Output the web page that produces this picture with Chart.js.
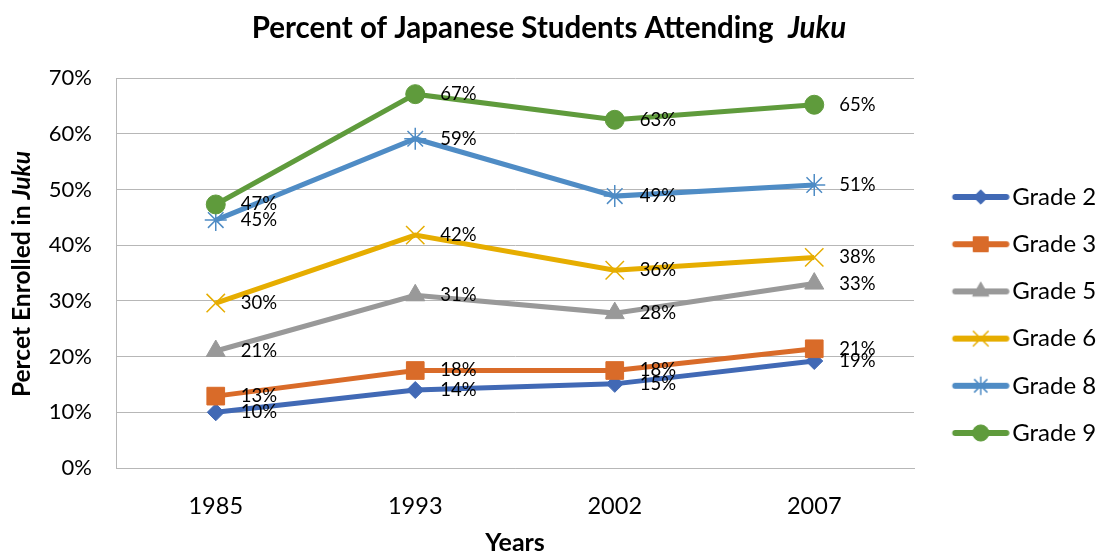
<!DOCTYPE html>
<html>
<head>
<meta charset="utf-8">
<script src="https://cdn.jsdelivr.net/npm/chart.js@4/dist/chart.umd.min.js"></script>
<style>
  html, body { margin: 0; padding: 0; background: #fff; }
  #wrap { width: 1101px; height: 552px; }
</style>
</head>
<body>
<div id="wrap"><canvas id="juku-chart"></canvas></div>
<script>
const years = ["1985", "1993", "2002", "2007"];
const grade2 = [10, 14, 15.1, 19.2];
const grade3 = [12.9, 17.5, 17.5, 21.4];
const grade5 = [21, 31, 27.8, 33.1];
const grade6 = [29.6, 41.8, 35.5, 37.8];
const grade8 = [44.5, 59.1, 48.8, 50.8];
const grade9 = [47.3, 67.1, 62.5, 65.2];
const yTicks = [0, 10, 20, 30, 40, 50, 60, 70];

const FONT = "Lato";
const GRID = "#b7b7b7";
const LEGEND_SIZE = 24;
const LEGEND_PAD = 23.2;
const LEGEND_BOX = 63;

// marker + colour per series
const series = [
    { label: "Grade 2", data: grade2, color: "#4169b5", style: "rectRot", radius: 8.5, bw: 1 },
    { label: "Grade 3", data: grade3, color: "#d96b29", style: "rect", radius: 12.5, bw: 1 },
    { label: "Grade 5", data: grade5, color: "#999999", style: "triangle", radius: 11, bw: 1 },
    { label: "Grade 6", data: grade6, color: "#e6ad00", style: "crossRot", radius: 13, bw: 1.5 },
    { label: "Grade 8", data: grade8, color: "#4f8cc5", style: "star", radius: 11, bw: 1.5 },
    { label: "Grade 9", data: grade9, color: "#5f9b3c", style: "circle", radius: 9.5, bw: 1 },
];

// right padding so the plot area ends at x = 915 (9px fudge found by eye)
const measure = document.createElement("canvas").getContext("2d");
measure.font = LEGEND_SIZE + "px " + FONT;
const maxText = Math.max(...series.map(s => measure.measureText(s.label).width));
const rightPad = 1101 - 915 - (LEGEND_PAD + LEGEND_BOX + LEGEND_SIZE / 2 + maxText) - 9;

function legendIcon(s) {
    const c = document.createElement("canvas");
    c.width = 82;
    c.height = 34;
    const ctx = c.getContext("2d");
    ctx.strokeStyle = s.color;
    ctx.lineCap = "round";
    ctx.lineWidth = 6;
    ctx.beginPath();
    ctx.moveTo(27.5, 17);
    ctx.lineTo(78.5, 17);
    ctx.stroke();
    ctx.fillStyle = s.color;
    ctx.lineWidth = s.bw;
    ctx.lineCap = "butt";
    Chart.helpers.drawPoint(ctx, {
        pointStyle: s.style,
        radius: s.radius * 0.85,
        rotation: 0,
        borderWidth: s.bw,
    }, 53, 17);
    return c;
}

const datalabels = {
    id: "datalabels",
    afterDatasetsDraw(chart) {
        const ctx = chart.ctx;
        ctx.save();
        ctx.font = "18.5px " + FONT;
        ctx.fillStyle = "#000";
        ctx.textAlign = "left";
        ctx.textBaseline = "middle";
        chart.data.datasets.forEach((ds, i) => {
            chart.getDatasetMeta(i).data.forEach((pt, j) => {
                ctx.fillText(Math.round(ds.data[j]) + "%", pt.x + 25, pt.y);
            });
        });
        ctx.restore();
    },
};

// title and y axis title have an italic word, so draw them by hand
function mixedText(ctx, parts, cx, cy) {
    let total = 0;
    parts.forEach(p => { ctx.font = p.font; p.w = ctx.measureText(p.text).width; total += p.w; });
    let x = cx - total / 2;
    parts.forEach(p => {
        ctx.font = p.font;
        ctx.fillText(p.text, x, cy);
        x += p.w;
    });
}

const titles = {
    id: "titles",
    afterDraw(chart) {
        const ctx = chart.ctx;
        ctx.save();
        ctx.fillStyle = "#000";
        ctx.textAlign = "left";
        ctx.textBaseline = "middle";
        mixedText(ctx, [
            { text: "Percent of Japanese Students Attending  ", font: "bold 29.5px " + FONT },
            { text: "Juku", font: "italic bold 29.5px " + FONT },
        ], 549, 28);
        ctx.translate(22, 274);
        ctx.rotate(-Math.PI / 2);
        mixedText(ctx, [
            { text: "Percet Enrolled in ", font: "bold 24.5px " + FONT },
            { text: "Juku", font: "italic bold 24.5px " + FONT },
        ], 0, 0);
        ctx.restore();
    },
};

new Chart(document.getElementById("juku-chart"), {
    type: "line",
    data: {
        labels: years,
        datasets: series.map((s, i) => ({
            label: s.label,
            data: s.data,
            order: series.length - i,
            borderColor: s.color,
            backgroundColor: s.color,
            borderWidth: 5,
            tension: 0,
            pointStyle: s.style,
            pointRadius: s.radius,
            pointHoverRadius: s.radius,
            pointBorderWidth: s.bw,
            pointBackgroundColor: s.color,
            pointBorderColor: s.color,
        })),
    },
    options: {
        responsive: true,
        maintainAspectRatio: false,
        animation: false,
        layout: {
            padding: { top: 78, left: 0, right: rightPad, bottom: 0 },
        },
        scales: {
            x: {
                offset: true,
                grid: { display: false },
                border: { display: true, color: GRID },
                ticks: {
                    color: "#000",
                    font: { family: FONT, size: 23.5 },
                    padding: 16,
                    maxRotation: 0,
                },
                title: {
                    display: true,
                    text: "Years",
                    color: "#000",
                    font: { family: FONT, size: 25, weight: "bold", lineHeight: 1 },
                    padding: { top: 0, bottom: -3 },
                },
                afterFit(scale) { scale.height = 84; },
            },
            y: {
                min: 0,
                max: 70,
                afterBuildTicks(scale) { scale.ticks = yTicks.map(v => ({ value: v })); },
                grid: { color: GRID, drawTicks: false },
                border: { display: true, color: GRID },
                ticks: {
                    color: "#000",
                    font: { family: FONT, size: 22 },
                    padding: 24,
                    callback: v => v + "%",
                },
                afterFit(scale) { scale.width = 116; },
            },
        },
        plugins: {
            title: { display: false },
            tooltip: { enabled: false },
            legend: {
                display: true,
                position: "right",
                sort: (a, b) => a.datasetIndex - b.datasetIndex,
                labels: {
                    color: "#000",
                    font: { family: FONT, size: LEGEND_SIZE },
                    usePointStyle: true,
                    pointStyleWidth: LEGEND_BOX,
                    padding: LEGEND_PAD,
                    generateLabels(chart) {
                        return series.map((s, i) => ({
                            text: s.label,
                            datasetIndex: i,
                            pointStyle: legendIcon(s),
                            fontColor: "#000",
                            hidden: false,
                            lineWidth: 0,
                        }));
                    },
                },
            },
        },
    },
    plugins: [datalabels, titles],
});
</script>
</body>
</html>
